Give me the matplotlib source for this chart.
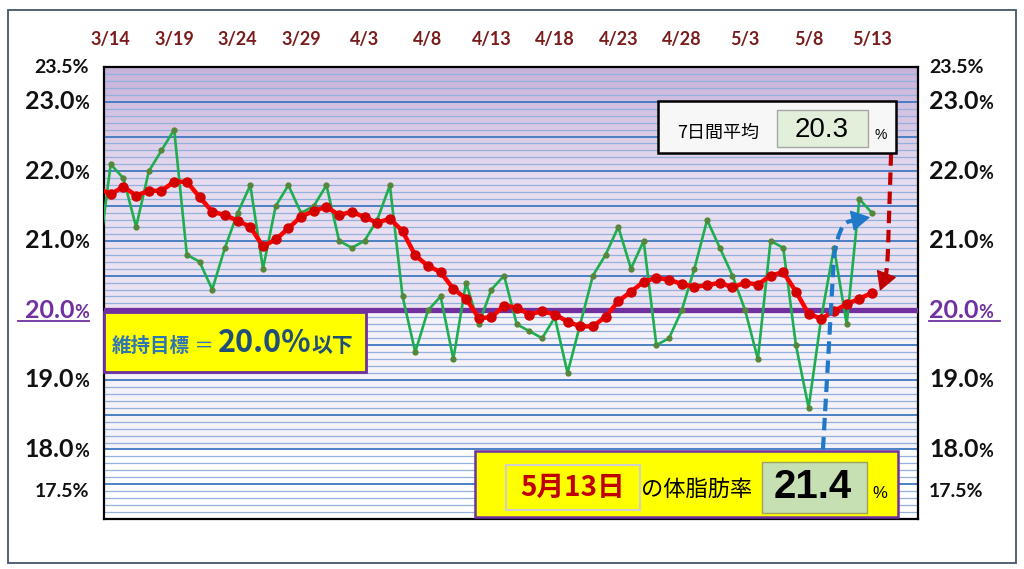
import numpy as np
import pandas as pd
import matplotlib
matplotlib.use("Agg")
from matplotlib import pyplot as plt
from matplotlib.patches import Rectangle, PathPatch
from matplotlib.path import Path
from matplotlib.lines import Line2D
from matplotlib.offsetbox import TextArea, HPacker, AnnotationBbox
from matplotlib.colors import to_rgb
import matplotlib.transforms as mtransforms

# daily body fat (%) 3/13 .. 5/13 and its 7 day average
dates = pd.date_range("2023-03-13", "2023-05-13", freq="D")
body_fat = [
    20.7, 22.1, 21.9, 21.2, 22.0, 22.3, 22.6, 20.8, 20.7, 20.3, 20.9,
    21.4, 21.8, 20.6, 21.5, 21.8, 21.4, 21.5, 21.8, 21.0, 20.9, 21.0,
    21.3, 21.8, 20.2, 19.4, 20.0, 20.2, 19.3, 20.4, 19.8, 20.3, 20.5,
    19.8, 19.7, 19.6, 19.9, 19.1, 19.8, 20.5, 20.8, 21.2, 20.6, 21.0,
    19.5, 19.6, 20.0, 20.6, 21.3, 20.9, 20.5, 20.0, 19.3, 21.0, 20.9,
    19.5, 18.6, 19.9, 20.9, 19.8, 21.6, 21.4,
]
avg7 = [
    21.76, 21.67, 21.78, 21.65, 21.72, 21.72, 21.85, 21.85, 21.63, 21.42, 21.37,
    21.29, 21.20, 20.92, 21.02, 21.18, 21.35, 21.43, 21.49, 21.37, 21.42, 21.34,
    21.26, 21.32, 21.14, 20.79, 20.64, 20.55, 20.31, 20.17, 19.89, 19.90, 20.07,
    20.04, 19.94, 19.99, 19.94, 19.84, 19.77, 19.77, 19.91, 20.13, 20.27, 20.41,
    20.47, 20.44, 20.38, 20.34, 20.36, 20.40, 20.33, 20.40, 20.37, 20.50, 20.55,
    20.27, 19.95, 19.88, 19.99, 20.09, 20.17, 20.25,
]
tick_dates = ["3/14", "3/19", "3/24", "3/29", "4/3", "4/8", "4/13",
              "4/18", "4/23", "4/28", "5/3", "5/8", "5/13"]
y_labels = [23.5, 23.0, 22.0, 21.0, 20.0, 19.0, 18.0, 17.5]
target = 20.0
latest_day = "5月13日"
latest_value = 21.4
latest_avg = 20.3

W, H = 1024, 569
JP = ["Noto Sans CJK JP", "DejaVu Sans"]
NUM = ["Lato", "DejaVu Sans"]
plt.rcParams["font.family"] = ["Lato", "Noto Sans CJK JP", "DejaVu Sans"]


def fp(x, y):
    return x / W, 1 - y / H


def dashed_arrow(ax, verts, codes, head, color):
    ax.add_patch(PathPatch(Path(verts, codes), fill=False, edgecolor=color, lw=3,
                           linestyle=(0, (3, 1.6)), capstyle="butt", zorder=6,
                           clip_on=False))
    ax.annotate("", xy=head[1], xytext=head[0],
                arrowprops=dict(arrowstyle="-|>,head_length=0.8,head_width=0.45",
                                color=color, lw=1, shrinkA=0, shrinkB=0,
                                mutation_scale=15),
                zorder=6, annotation_clip=False)


def main():
    day = np.array((dates - dates[1]).days)
    labels = [f"{d.month}/{d.day}" for d in dates]
    tick_pos = [day[labels.index(t)] for t in tick_dates]

    fig = plt.figure(figsize=(W / 100, H / 100), dpi=100)
    ax = fig.add_axes([104 / W, 1 - 519 / H, (918 - 104) / W, (519 - 67) / H])
    x0, x1 = -0.53, 63.62
    ax.set_xlim(x0, x1)
    ax.set_ylim(17.0, 23.5)

    # background bands
    yy = np.linspace(17.0, 23.5, 651)
    sv = [17.0, 17.999, 18.0, 19.999, 20.0, 21.9, 23.5]
    sc = ["#ffffff", "#ffffff", "#f5f1f9", "#f5f1f9", "#ece4f2", "#e7dcef", "#c8b2da"]
    rgb = np.array([to_rgb(c) for c in sc])
    img = np.stack([np.interp(yy, sv, rgb[:, k]) for k in range(3)], axis=-1)[:, None, :]
    ax.imshow(img, origin="lower", extent=(x0, x1, 17.0, 23.5), aspect="auto",
              interpolation="nearest", zorder=0)

    ax.set_yticks(np.arange(17.0, 23.51, 0.5))
    ax.set_yticks(np.arange(17.0, 23.51, 0.1), minor=True)
    ax.grid(which="minor", axis="y", color="#93b1dc", lw=0.9)
    ax.grid(which="major", axis="y", color="#3f78c0", lw=1.3)
    ax.set_axisbelow(True)
    ax.tick_params(axis="y", which="both", length=0, labelleft=False)

    ax.xaxis.tick_top()
    ax.set_xticks(tick_pos)
    ax.set_xticklabels(tick_dates, fontsize=13, fontweight="bold", color="#7a1c1c",
                       family=NUM)
    ax.tick_params(axis="x", length=0, pad=14)
    for s in ax.spines.values():
        s.set_linewidth(1.6)
        s.set_color("black")

    ax.axhline(target, color="#7030a0", lw=3.8, zorder=3)
    ax.plot(day, body_fat, color="#1fae4f", lw=1.9, marker="o", markersize=3.5,
            markerfacecolor="#55873a", markeredgecolor="#55873a", zorder=4)
    ax.plot(day, avg7, color="#ff0000", lw=3.2, marker="o", markersize=6.5,
            markerfacecolor="#d40000", markeredgecolor="#d40000", zorder=5)

    # dashed arrows (latest value -> point, 7 day box -> average line)
    dashed_arrow(ax, [(56.13, 18.0), (57.0, 20.78), (57.4, 21.25), (58.2, 21.28),
                      (58.8, 21.30)],
                 [Path.MOVETO, Path.LINETO, Path.CURVE3, Path.CURVE3, Path.LINETO],
                 ((58.7, 21.30), (59.85, 21.34)), "#1f78c8")
    dashed_arrow(ax, [(61.5, 22.26), (61.25, 20.85), (61.2, 20.62), (61.08, 20.5)],
                 [Path.MOVETO, Path.LINETO, Path.CURVE3, Path.CURVE3],
                 ((61.12, 20.52), (60.62, 20.28)), "#c00000")

    # y labels both sides
    blend = mtransforms.blended_transform_factory(fig.transFigure, ax.transData)
    for v in y_labels:
        small = v in (23.5, 17.5)
        col = "#7030a0" if v == target else "#111111"
        if small:
            parts = [(f"{v:.1f}%", 14)]
        else:
            parts = [(f"{v:.1f}", 18), ("%", 13)]
        yv = v - 0.1 if v == 17.5 else v
        for xpix, al in ((89, (1, 0.5)), (929, (0, 0.5))):
            kids = [TextArea(s, textprops=dict(fontsize=fs, fontweight="bold",
                                                color=col, family=NUM))
                    for s, fs in parts]
            pack = HPacker(children=kids, align="baseline", pad=0, sep=0)
            fig.add_artist(AnnotationBbox(pack, (xpix / W, yv), xycoords=blend,
                                          box_alignment=al, frameon=False, pad=0))
    for xa, xb in ((18, 89), (929, 1000)):
        fig.add_artist(Line2D([xa / W, xb / W], [1 - 321 / H] * 2,
                              transform=fig.transFigure, color="#7030a0", lw=1.3))

    def rect(xa, ya, xb, yb, **kw):
        fig.add_artist(Rectangle(fp(xa, yb), (xb - xa) / W, (yb - ya) / H,
                                 transform=fig.transFigure, **kw))

    # target box
    rect(104, 312, 366, 372, facecolor="#ffff00", edgecolor="#7030a0", lw=2)
    kids = [
        TextArea("維持目標", textprops=dict(fontsize=14, fontweight="bold",
                                          color="#2e75b6", family=JP)),
        TextArea(" ＝ ", textprops=dict(fontsize=14, color="#2e75b6", family=JP)),
        TextArea(f"{target:.1f}%", textprops=dict(fontsize=22, fontweight="bold",
                                                  color="#1f4e79", family=JP)),
        TextArea("以下", textprops=dict(fontsize=15, fontweight="bold",
                                        color="#1f4e79", family=JP)),
    ]
    pack = HPacker(children=kids, align="baseline", pad=0, sep=0)
    fig.add_artist(AnnotationBbox(pack, fp(112, 343), xycoords="figure fraction",
                                  box_alignment=(0, 0.5), frameon=False, pad=0))

    # 7 day average box
    rect(658, 101, 896, 153, facecolor="#f7f7f7", edgecolor="black", lw=1.8)
    rect(777, 110, 868, 147, facecolor="#e2efda", edgecolor="#a6a6a6", lw=1)
    fig.text(*fp(677, 133), "7日間平均", fontsize=13, family=JP, va="center")
    fig.text(*fp(822, 130), f"{latest_avg:.1f}", fontsize=20, va="center", ha="center",
             family=["Liberation Sans", "DejaVu Sans"])
    fig.text(*fp(881, 135), "%", fontsize=10, va="center", ha="center",
             family=["Liberation Sans", "DejaVu Sans"])

    # latest value box
    rect(475, 451, 898, 517, facecolor="#ffff00", edgecolor="#7030a0", lw=1.8)
    rect(506, 465, 640, 510, facecolor="#ffff00", edgecolor="#d0d0d0", lw=1.5)
    rect(762, 462, 867, 513, facecolor="#c6e0b4", edgecolor="#a0a060", lw=1)
    fig.text(*fp(573, 488), latest_day, fontsize=20, fontweight="bold", color="#c00000",
             family=JP, va="center", ha="center")
    fig.text(*fp(641, 489), "の体脂肪率", fontsize=16, family=JP, va="center")
    fig.text(*fp(813, 487), f"{latest_value:.1f}", fontsize=29, fontweight="bold",
             family=["Liberation Sans Narrow", "Liberation Sans", "DejaVu Sans"],
             va="center", ha="center")
    fig.text(*fp(880, 493), "%", fontsize=12, va="center", ha="center",
             family=["Liberation Sans", "DejaVu Sans"])

    # outer frame
    rect(8, 10, 1016, 563, facecolor="none", edgecolor="#44546a", lw=1.3)

    fig.savefig("out.png", dpi=100)


if __name__ == "__main__":
    main()
